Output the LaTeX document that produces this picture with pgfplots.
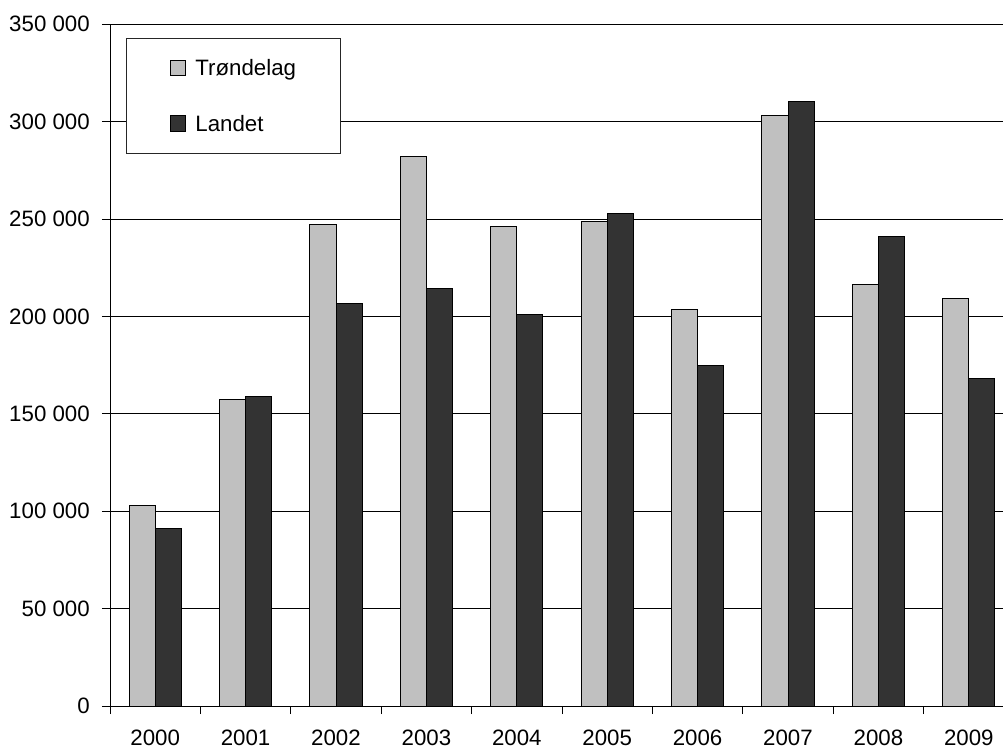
\documentclass[border=0pt]{standalone}
\usepackage{fontspec}
\setmainfont{Liberation Sans}
\usepackage{pgfplots}
\pgfplotsset{compat=1.18}
\definecolor{trond}{HTML}{C0C0C0}
\definecolor{landet}{HTML}{333333}
\begin{document}
\begin{tikzpicture}
\useasboundingbox (0,0) rectangle (752.25pt,563.25pt);
\begin{scope}[overlay]
\clip (0,0) rectangle (752.25pt,563.25pt);
\begin{axis}[
  at={(82.5pt,33.75pt)}, anchor=south west,
  scale only axis, width=678pt, height=511.3pt,
  ybar=0pt, bar width=0.288,
  xmin=-0.5, xmax=9.5, ymin=0, ymax=350000,
  scaled y ticks=false,
  axis x line*=bottom, axis y line*=left,
  axis line style={black, line width=0.75pt},
  xtick={-0.5,0.5,1.5,2.5,3.5,4.5,5.5,6.5,7.5,8.5,9.5},
  xticklabels={2000,2001,2002,2003,2004,2005,2006,2007,2008,2009},
  x tick label as interval,
  ytick={0,50000,100000,150000,200000,250000,300000,350000},
  yticklabels={0,50 000,100 000,150 000,200 000,250 000,300 000,350 000},
  tick align=outside, major tick length=6pt,
  tick style={black, line width=0.75pt},
  ymajorgrids, major grid style={black, line width=0.6pt},
  every tick label/.append style={font=\fontsize{16.7pt}{20pt}\selectfont, inner sep=0pt},
  yticklabel style={anchor=east, xshift=-9pt},
  xticklabel style={anchor=north, yshift=-12pt},
  legend style={at={(0.0177,0.9795)}, anchor=north west,
    draw=black!85, line width=0.6pt,
    font=\fontsize{16.7pt}{20pt}\selectfont,
    inner xsep=33pt, inner ysep=9pt, row sep=15.3pt, column sep=6.75pt,
    nodes={inner sep=0pt, text height=19pt, text depth=7.2pt}},
  legend cell align=left,
  legend image code/.code={\draw[#1, line width=0.75pt] (0pt,-5.9pt) rectangle (11.25pt,5.6pt);},
]
\addplot[fill=trond, draw=black, line width=0.75pt] coordinates {
 (0,103000) (1,157600) (2,247000) (3,282000) (4,246400)
 (5,248700) (6,203700) (7,303100) (8,216300) (9,209100)};
\addplot[fill=landet, draw=black, line width=0.75pt] coordinates {
 (0,91000) (1,159100) (2,206600) (3,214100) (4,200900)
 (5,252800) (6,174600) (7,310100) (8,240800) (9,168000)};
\legend{Trøndelag, Landet}
\end{axis}
\end{scope}
\end{tikzpicture}
\end{document}
